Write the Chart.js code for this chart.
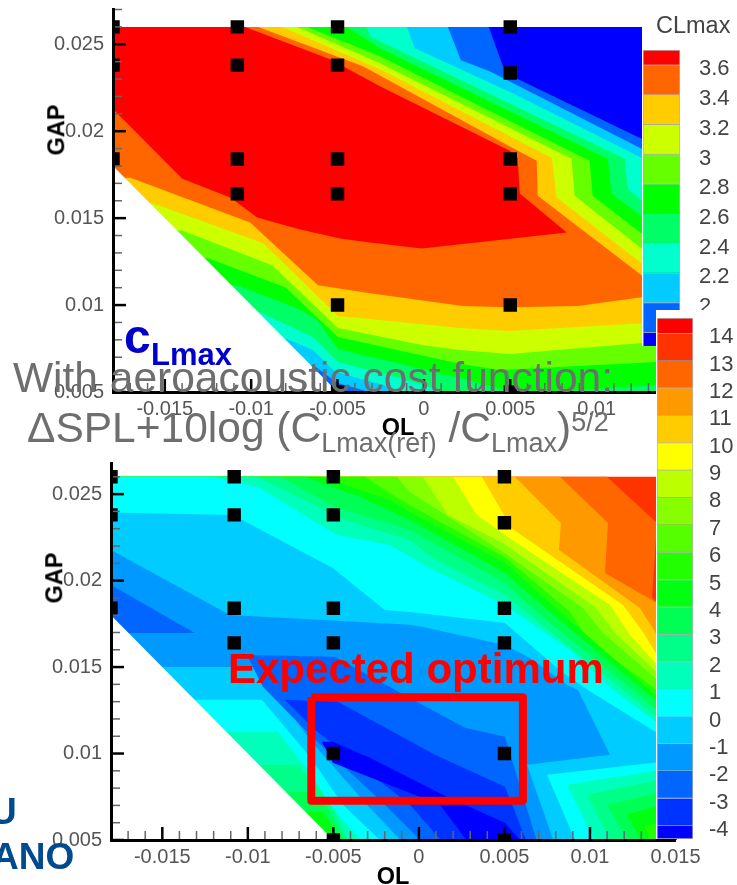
<!DOCTYPE html>
<html>
<head>
<meta charset="utf-8">
<title>CLmax and aeroacoustic cost function</title>
<script src="https://cdn.jsdelivr.net/npm/chart.js@4"></script>
<style>
  html, body { margin: 0; background: #fff; }
  body { position: relative; width: 737px; height: 885px; overflow: hidden; font-family: "Liberation Sans", Arial, sans-serif; }
  canvas { position: absolute; }
  .label { position: absolute; line-height: 1; white-space: nowrap; z-index: 10; }
  .axis-title { font-weight: bold; font-size: 23.5px; color: #000; transform: translate(-50%, -50%); }
  .gap { transform: translate(-50%, -50%) rotate(-90deg); }
  .note { color: #6e6e6e; font-size: 42.5px; }
  .note span { position: relative; font-size: 27px; }
  .blue { color: #004a8f; font-weight: bold; font-size: 37px; }
</style>
</head>
<body>
<canvas id="clChart" width="737" height="440" style="left:0;top:0;z-index:1"></canvas>
<canvas id="clBar" width="95" height="346" style="left:642px;top:0;z-index:2;background:#fff"></canvas>
<canvas id="splChart" width="737" height="885" style="left:0;top:0;z-index:3"></canvas>
<canvas id="splBar" width="81" height="529" style="left:656px;top:310px;z-index:4;background:#fff"></canvas>

<div class="label" style="left:656px;top:14px;font-size:23.5px;color:#444;z-index:5">CLmax</div>
<div class="label axis-title gap" style="left:57px;top:130px">GAP</div>
<div class="label axis-title" style="left:398px;top:428px">OL</div>
<div class="label axis-title gap" style="left:55px;top:578px">GAP</div>
<div class="label axis-title" style="left:393px;top:877px">OL</div>
<div class="label" style="left:124px;top:313px;font-size:48px;font-weight:bold;color:#0000cc">c</div>
<div class="label" style="left:151px;top:339px;font-size:31px;font-weight:bold;color:#0000cc">Lmax</div>
<div class="label note" style="left:13px;top:357px">With aeroacoustic cost function:</div>
<div class="label note" style="left:27px;top:407px">&Delta;SPL+10log (C<span style="top:10px">Lmax(ref)</span> /C<span style="top:10px">Lmax</span>)<span style="top:-11px">5/2</span></div>
<div class="label" style="left:228px;top:648px;font-size:42px;font-weight:bold;color:#ff0000">Expected optimum</div>
<div class="label blue" style="left:-10px;top:793px">U</div>
<div class="label blue" style="left:-8px;top:838px">ANO</div>

<script>
// all polygon and marker values below are [OL, GAP] in units of 1e-3
const xTicks = [-0.015, -0.01, -0.005, 0, 0.005, 0.01, 0.015];
const yTicks = [0.005, 0.01, 0.015, 0.02, 0.025];

// measurement points (black squares)
const pointsCl = [
  [-18, 26], [-18, 23.8], [-18, 18.4],
  [-10.8, 26], [-10.8, 23.8], [-10.8, 18.4], [-10.8, 16.4],
  [-5, 26], [-5, 23.8], [-5, 18.4], [-5, 16.4], [-5, 10], [-5, 5],
  [5, 26], [5, 23.35], [5, 18.4], [5, 16.4], [5, 10], [5, 5]
];
const pointsSpl = pointsCl;

// CLmax contours: area where CLmax is above each level
const clBase = [[-19, 26], [16, 26], [16, 3], [-19, 3]];
const cl18 = [[-18, 26], [3.76, 26], [4.57, 23.74], [5.43, 23], [12.6, 19.56], [14.8, 18.47], [14.8, 3.4], [-3.7, 3.4], [-4.57, 4.84], [-5.43, 5.41], [-19, 5.41]];
const cl20 = [[-18, 26], [1.39, 26], [2.14, 24.08], [3.81, 23.45], [12.6, 18.99], [14.8, 17.9], [14.8, 3.4], [-1.39, 3.4], [-1.97, 4.67], [-5.03, 5.53], [-6.42, 6.56], [-19, 6.56]];
const cl22 = [[-18, 26], [-0.98, 26], [-0.52, 24.77], [5.14, 22.19], [12.6, 18.47], [14.8, 17.38], [14.8, 3.4], [-0.23, 3.4], [-1.79, 5.24], [-5.14, 6.16], [-6.42, 7.42], [-7.92, 8.05], [-19, 8.05]];
const cl24 = [[-18, 26], [-3.29, 26], [-3.12, 25.46], [-2.54, 25.17], [11.62, 18.41], [11.79, 16.7], [12.6, 16.01], [14.8, 14.29], [14.8, 3.4], [5.55, 3.4], [2.08, 4.73], [-1.39, 5.81], [-4.97, 6.73], [-6.42, 8.16], [-9.48, 9.59], [-19, 9.59]];
const cl26 = [[-18, 26], [-4.45, 26], [-2.54, 24.77], [10.64, 18.41], [10.87, 16.41], [12.6, 15.09], [14.8, 13.43], [14.8, 5.47], [10.92, 5.24], [5.55, 4.9], [2.08, 5.81], [-4.97, 7.48], [-6.18, 9.14], [-7.34, 9.82], [-10.81, 11.14], [-19, 11.14]];
const cl28 = [[-18, 26], [-6.76, 26], [-2.54, 24.31], [9.59, 18.3], [9.77, 16.29], [12.6, 14.12], [14.8, 12.46], [14.8, 6.79], [13.47, 6.73], [4.39, 6.27], [2.08, 6.62], [-4.97, 8.16], [-8.03, 11.03], [-12.48, 12.69], [-19, 12.69]];
const cl30 = [[-18, 26], [-7.34, 26], [-2.54, 23.91], [8.55, 18.41], [8.73, 16.29], [12.6, 13.26], [14.8, 11.54], [14.8, 7.88], [12.6, 7.82], [4.97, 7.19], [2.08, 7.42], [-0.12, 7.7], [-4.97, 8.68], [-8.79, 12.29], [-13.99, 14.29], [-19, 14.29]];
const cl32 = [[-18, 26], [-8.21, 26], [-2.54, 23.57], [7.4, 18.47], [7.69, 16.18], [12.6, 12.4], [14.8, 10.74], [14.8, 9.02], [12.6, 8.96], [4.97, 8.51], [2.08, 8.68], [-1.39, 9.02], [-4.97, 9.37], [-9.31, 13.55], [-15.66, 15.84], [-19, 15.84]];
const cl34 = [[-18, 26], [-9.59, 26], [-3.53, 23.74], [5.14, 19.04], [6.53, 18.3], [6.59, 16.29], [12.6, 11.71], [13.93, 10.63], [12.6, 10.45], [8.9, 9.94], [4.97, 9.88], [2.25, 9.94], [-3.12, 10.68], [-6.13, 11.14], [-10.06, 14.75], [-16.99, 17.33], [-19, 17.33]];
const cl36 = [[-18, 26], [-10.35, 26], [-5.43, 24.14], [-2.54, 22.59], [4.97, 18.87], [5.43, 18.47], [5.55, 16.41], [8.27, 14.18], [-0.12, 13.26], [-3.12, 13.6], [-4.86, 13.83], [-7.17, 14.35], [-9.65, 15.03], [-11.21, 16.18], [-13.99, 17.27], [-18, 21.28]];

const clContours = [clBase, cl18, cl20, cl22, cl24, cl26, cl28, cl30, cl32, cl34, cl36];
const clColors = ['#0000ff', '#0066ff', '#00ccff', '#00ffcc', '#00ff66', '#00ff00', '#66ff00', '#ccff00', '#ffcc00', '#ff6600', '#ff0000'];
const clBandEdges = [1.708, 1.8, 2, 2.2, 2.4, 2.6, 2.8, 3, 3.2, 3.4, 3.6, 3.7];
const clBarTicks = [2, 2.2, 2.4, 2.6, 2.8, 3, 3.2, 3.4, 3.6];

// cost function contours: area where the value is below each level
const splBase = [[-19, 26], [16, 26], [16, 3], [-19, 3]];
const spl13 = [[10.99, 26], [13.92, 23.33], [13.63, 19.05], [13.92, 18.71], [15.85, 17.15], [16, 3], [-19, 3], [-19, 26]];
const spl12 = [[8.25, 26], [11.05, 23.33], [10.88, 20.44], [13.92, 18.71], [15.85, 17.61], [16, 3], [-19, 3], [-19, 26]];
const spl11 = [[5.61, 26], [8.3, 23.33], [8.19, 21.77], [12.92, 18.42], [13.92, 16.86], [15.85, 15.42], [16, 3], [-19, 3], [-19, 26]];
const spl10 = [[3.68, 26], [4.91, 23.9], [5.32, 23.09], [11.93, 18.59], [13.1, 17.03], [13.92, 15.7], [15.85, 14.26], [16, 3], [-19, 3], [-19, 26]];
const spl9 = [[1.99, 26], [3.39, 23.79], [5.03, 22.63], [11.17, 18.59], [12.34, 16.86], [13.92, 15.13], [15.85, 13.68], [16, 3], [-19, 3], [-19, 26]];
const spl8 = [[0.23, 26], [1.7, 23.79], [4.91, 22.17], [10.29, 18.48], [11.58, 16.86], [13.92, 14.72], [15.85, 13.11], [16, 3], [-19, 3], [-19, 26]];
const spl7 = [[-1.29, 26], [-0.53, 25.12], [4.91, 21.65], [9.59, 18.42], [10.76, 16.97], [13.92, 14.26], [15.85, 12.64], [16, 3], [-19, 3], [-19, 26]];
const spl6 = [[-3.16, 26], [-1.7, 25.06], [-0.53, 24.36], [5.03, 21.36], [8.83, 18.19], [10, 16.45], [13.92, 13.68], [15.85, 12.24], [16, 3], [-19, 3], [-19, 26]];
const spl5 = [[-5.67, 26], [-1.7, 24.65], [-0.53, 23.96], [5.03, 21.02], [8.25, 18.19], [13.51, 13.68], [15.85, 11.66], [15.85, 6.5], [13.2, 5.8], [13.6, 4.73], [-19, 4.73], [-19, 26]];
const spl4 = [[-6.67, 26], [-3.45, 24.83], [-0.53, 23.5], [5.03, 20.44], [7.66, 18.19], [13.1, 13.68], [15.26, 11.95], [15.26, 7.33], [12.16, 6.47], [13.1, 4.73], [-4.62, 4.73], [-5.03, 5.77], [-5.61, 6.64], [-6.96, 6.64], [-19, 6.64], [-19, 26]];
const spl3 = [[-8.13, 26], [-4.91, 24.25], [-0.53, 22.92], [5.03, 19.86], [7.08, 18.01], [12.51, 13.68], [15.26, 11.37], [15.26, 8.02], [10.99, 7.04], [12.34, 4.73], [-4.21, 4.73], [-5.32, 6.87], [-6.55, 7.79], [-7.84, 7.79], [-19, 7.79], [-19, 26]];
const spl2 = [[-9.47, 26], [-4.33, 23.5], [-0.53, 22.34], [0.82, 21.3], [5.03, 19.17], [11.93, 13.68], [15.26, 11.08], [15.26, 8.72], [9.82, 7.62], [11.35, 4.73], [-4.04, 4.73], [-5.03, 6.93], [-5.79, 7.91], [-7.13, 9.35], [-9.47, 9.35], [-19, 9.35], [-19, 26]];
const spl1 = [[-11.93, 26], [-9.3, 25.35], [-4.8, 22.63], [-1.7, 22.06], [0.64, 20.73], [5.03, 18.59], [8.83, 15.99], [11.35, 13.68], [13.92, 11.78], [15.26, 10.8], [15.26, 9.24], [8.65, 8.2], [10.41, 4.73], [-3.16, 4.73], [-5.2, 7.04], [-6.26, 8.77], [-8.25, 11.26], [-11.05, 11.26], [-19, 11.26], [-19, 26]];
const spl0 = [[-19, 23.96], [-10.88, 23.79], [-5.03, 20.73], [-1.99, 18.3], [-0.53, 18.19], [5.03, 17.55], [8.36, 14.72], [9.88, 13.68], [13.92, 11.2], [15.26, 10.51], [15.26, 9.64], [7.49, 8.77], [9.24, 4.73], [-1.99, 4.73], [-4.44, 7.04], [-6.37, 9.81], [-9.18, 13.11], [-12.81, 13.11], [-19, 13.11]];
const splM1 = [[-19, 21.9], [-18, 21.77], [-11.05, 18.01], [-0.53, 17.44], [0.23, 17.32], [5.03, 16.28], [6.49, 15.53], [8.66, 13.97], [9.3, 13.68], [11.17, 9.93], [6.32, 9.35], [7.95, 4.73], [-0.82, 4.73], [-3.04, 7.04], [-6.37, 10.8], [-9.47, 15.01], [-14.27, 15.01], [-19, 15.01]];
const splM2 = [[-10.06, 15.7], [-4.91, 15.59], [-0.35, 13.11], [2.69, 11.49], [5.03, 10.97], [5.79, 8.49], [6.96, 4.73], [0.35, 4.73], [-1.99, 7.04], [-6.37, 11.08], [-9.12, 13.86]];
const splM2Lobe = [[-19, 19.75], [-18, 19.75], [-13.1, 16.97], [-19, 16.97]];
const splM3 = [[-7.84, 13.11], [-4.74, 12.99], [0.94, 9.93], [5.03, 8.08], [6.37, 4.73], [1.52, 4.73], [-0.53, 7.04], [-6.08, 11.37]];
const splM4 = [[-5.67, 10.68], [-5.03, 10.68], [-2.87, 9.76], [1.64, 7.5], [5.03, 6], [6.14, 4.73], [2.98, 4.73], [1.23, 7.04], [-5.03, 9.47]];

const splContours = [splBase, spl13, spl12, spl11, spl10, spl9, spl8, spl7, spl6, spl5, spl4, spl3, spl2, spl1, spl0, splM1, splM2, splM2Lobe, splM3, splM4];
const splFills = ['#ff3300', '#ff6600', '#ff9900', '#ffcc00', '#ffff00', '#bbff00', '#88ff00', '#55ff00', '#22ff00', '#00ff11', '#00ff55', '#00ff88', '#00ffbb', '#00ffff', '#00ccff', '#0099ff', '#0066ff', '#0066ff', '#0033ff', '#0000ff'];

const splColors = ['#0000ff', '#0033ff', '#0066ff', '#0099ff', '#00ccff', '#00ffff', '#00ffbb', '#00ff88', '#00ff55', '#00ff11', '#22ff00', '#55ff00', '#88ff00', '#bbff00', '#ffff00', '#ffcc00', '#ff9900', '#ff6600', '#ff3300', '#ff0000'];
const splBandEdges = [-4.48, -4, -3, -2, -1, 0, 1, 2, 3, 4, 5, 6, 7, 8, 9, 10, 11, 12, 13, 14, 14.55];
const splBarTicks = [-4, -3, -2, -1, 0, 1, 2, 3, 4, 5, 6, 7, 8, 9, 10, 11, 12, 13, 14];

// region outside the design space, left blank
const blankCorner = [[-19, 19], [-5, 5], [-5, 3], [-19, 3]];
// expected optimum box
const optimumBox = [[-6.29, 13.25], [6.08, 13.25], [6.08, 7.27], [-6.29, 7.27], [-6.29, 13.25]];

function toXY(list) {
  return list.map((p) => ({ x: p[0] / 1000, y: p[1] / 1000 }));
}

function bandDataset(list, color) {
  return {
    data: toXY(list),
    showLine: true,
    fill: 'shape',
    backgroundColor: color,
    borderWidth: 0,
    pointRadius: 0,
    clip: 0,
  };
}

function squaresDataset(list) {
  return {
    data: toXY(list),
    showLine: false,
    pointStyle: 'rect',
    pointRadius: 9.5,
    pointBorderWidth: 0,
    pointBackgroundColor: '#000',
    clip: 0,
  };
}

// Tecplot style ticks, they point into the plot
const innerTicks = {
  id: 'innerTicks',
  afterDatasetsDraw(chart) {
    const { ctx, scales: { x, y } } = chart;
    ctx.save();
    ctx.strokeStyle = '#666';
    ctx.lineWidth = 1.5;
    for (let i = -17; i <= 14; i++) {
      if (i % 5 === 0) continue;
      const px = x.getPixelForValue(i / 1000);
      ctx.beginPath();
      ctx.moveTo(px, y.bottom);
      ctx.lineTo(px, y.bottom - 9);
      ctx.stroke();
    }
    for (let i = 6; i <= 27; i++) {
      if (i % 5 === 0 || i / 1000 > y.max) continue;
      const py = y.getPixelForValue(i / 1000);
      ctx.beginPath();
      ctx.moveTo(x.left, py);
      ctx.lineTo(x.left + 9, py);
      ctx.stroke();
    }
    ctx.strokeStyle = '#000';
    ctx.lineWidth = 2.5;
    xTicks.forEach((v) => {
      const px = x.getPixelForValue(v);
      ctx.beginPath();
      ctx.moveTo(px, y.bottom);
      ctx.lineTo(px, y.bottom - 13);
      ctx.stroke();
    });
    yTicks.forEach((v) => {
      const py = y.getPixelForValue(v);
      ctx.beginPath();
      ctx.moveTo(x.left, py);
      ctx.lineTo(x.left + 13, py);
      ctx.stroke();
    });
    ctx.restore();
  },
};

const tickFont = { family: '"Liberation Sans", Arial, sans-serif', size: 20 };

function contourChart(id, datasets, box) {
  // first dataset is painted last
  datasets.reverse();
  return new Chart(document.getElementById(id), {
    type: 'scatter',
    data: { datasets: datasets },
    plugins: [innerTicks],
    options: {
      responsive: false,
      animation: false,
      events: [],
      layout: { padding: { left: 0, top: box.top, right: box.canvasWidth - box.right, bottom: 0 } },
      plugins: { legend: { display: false }, tooltip: { enabled: false }, title: { display: false } },
      scales: {
        x: {
          type: 'linear',
          min: -0.018,
          max: 0.015,
          grid: { display: false, drawTicks: false },
          border: { color: '#000', width: 3, z: 2 },
          afterBuildTicks: (scale) => { scale.ticks = xTicks.map((v) => ({ value: v })); },
          afterFit: (scale) => {
            scale.height = box.canvasHeight - box.bottom;
            scale.paddingLeft = 0;
            scale.paddingRight = 0;
          },
          ticks: {
            color: '#555',
            font: tickFont,
            padding: 5,
            maxRotation: 0,
            autoSkip: false,
            callback: (v) => String(v),
          },
        },
        y: {
          type: 'linear',
          min: 0.005,
          max: box.yMax,
          grid: { display: false, drawTicks: false },
          border: { color: '#000', width: 3, z: 2 },
          afterBuildTicks: (scale) => { scale.ticks = yTicks.map((v) => ({ value: v })); },
          afterFit: (scale) => {
            scale.width = box.left;
            scale.paddingTop = 0;
            scale.paddingBottom = 0;
          },
          ticks: {
            color: '#555',
            font: tickFont,
            padding: 9,
            autoSkip: false,
            callback: (v) => String(v),
          },
        },
      },
    },
  });
}

function colorBar(id, edges, colors, tickValues, box) {
  const datasets = colors.map((c, i) => ({
    data: [[edges[i], edges[i + 1]]],
    backgroundColor: c,
    borderColor: 'rgba(0,0,0,0.3)',
    borderWidth: 1,
    grouped: false,
    categoryPercentage: 1,
    barPercentage: 1,
  }));
  const lo = edges[0];
  const hi = edges[edges.length - 1];
  return new Chart(document.getElementById(id), {
    type: 'bar',
    data: { labels: [''], datasets: datasets },
    options: {
      responsive: false,
      animation: false,
      events: [],
      layout: { padding: { left: box.left, top: box.top, right: 0, bottom: box.bottom } },
      plugins: { legend: { display: false }, tooltip: { enabled: false } },
      scales: {
        x: { display: false },
        y: { display: false, min: lo, max: hi },
        // labels sit a little under their band edge
        labels: {
          axis: 'y',
          position: 'right',
          min: lo + box.labelShift,
          max: hi + box.labelShift,
          grid: { display: false, drawTicks: false },
          border: { display: false },
          afterBuildTicks: (scale) => { scale.ticks = tickValues.map((v) => ({ value: v })); },
          afterFit: (scale) => {
            scale.width = box.axisWidth;
            scale.paddingTop = 0;
            scale.paddingBottom = 0;
          },
          ticks: {
            color: '#444',
            font: { family: '"Liberation Sans", Arial, sans-serif', size: 22 },
            padding: box.labelGap,
            autoSkip: false,
            callback: (v) => String(v),
          },
        },
      },
    },
  });
}

// top plot
const clDatasets = clContours.map((c, i) => bandDataset(c, clColors[i]));
clDatasets.push(bandDataset(blankCorner, '#fff'));
clDatasets.push(squaresDataset(pointsCl));
contourChart('clChart', clDatasets, { left: 113, right: 683, top: 8, bottom: 392, yMax: 0.027, canvasWidth: 737, canvasHeight: 440 });

// bottom plot
const splDatasets = splContours.map((c, i) => bandDataset(c, splFills[i]));
splDatasets.push(bandDataset(blankCorner, '#fff'));
splDatasets.push(squaresDataset(pointsSpl));
splDatasets.push({
  data: toXY(optimumBox),
  showLine: true,
  fill: false,
  borderColor: '#ff0000',
  borderWidth: 8,
  borderJoinStyle: 'round',
  pointRadius: 0,
  clip: 0,
});
contourChart('splChart', splDatasets, { left: 111, right: 675.5, top: 463, bottom: 840, yMax: 0.0268, canvasWidth: 737, canvasHeight: 885 });

// colour bars
colorBar('clBar', clBandEdges, clColors, clBarTicks, { left: 1, top: 50, bottom: 0, axisWidth: 57, labelGap: 19, labelShift: 0.03 });
colorBar('splBar', splBandEdges, splColors, splBarTicks, { left: 1, top: 8, bottom: 0, axisWidth: 44, labelGap: 16, labelShift: 0.15 });
</script>
</body>
</html>
